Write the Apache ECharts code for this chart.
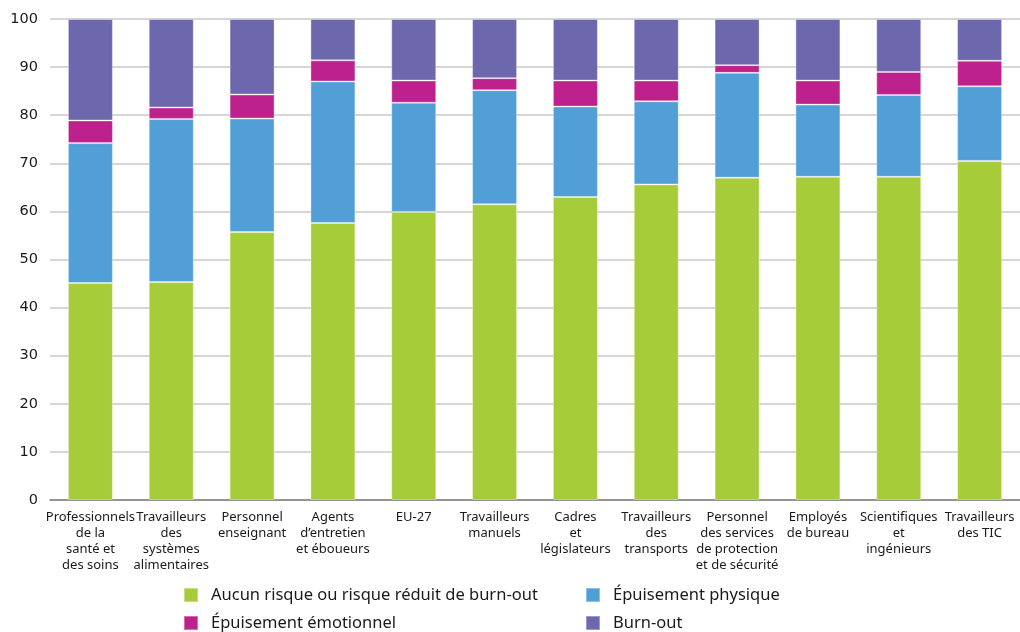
<!DOCTYPE html>
<html lang="fr">
<head>
    <meta charset="UTF-8">
    <title>Burn-out par profession</title>
    <script src="https://cdn.jsdelivr.net/npm/echarts@6/dist/echarts.min.js"></script>
    <style>
        html, body { margin: 0; padding: 0; background: #fff; }
    </style>
</head>
<body>
    <div id="main" style="width:1020px;height:632px;"></div>
    <script>
        // categories (line breaks as in the source figure)
        var categories = [
            'Professionnels\nde la\nsanté et\ndes soins',
            'Travailleurs\ndes\nsystèmes\nalimentaires',
            'Personnel\nenseignant',
            'Agents\nd’entretien\net éboueurs',
            'EU-27',
            'Travailleurs\nmanuels',
            'Cadres\net\nlégislateurs',
            'Travailleurs\ndes\ntransports',
            'Personnel\ndes services\nde protection\net de sécurité',
            'Employés\nde bureau',
            'Scientifiques\net\ningénieurs',
            'Travailleurs\ndes TIC'
        ];
        var aucunRisque = [45.1, 45.3, 55.7, 57.6, 59.9, 61.5, 63.0, 65.6, 67.0, 67.2, 67.2, 70.5];
        var epuisementPhysique = [29.1, 33.9, 23.6, 29.4, 22.7, 23.7, 18.8, 17.3, 21.8, 15.0, 17.0, 15.5];
        var epuisementEmotionnel = [4.7, 2.4, 5.0, 4.4, 4.6, 2.5, 5.4, 4.3, 1.6, 5.0, 4.8, 5.3];
        var burnOut = [21.1, 18.4, 15.7, 8.6, 12.8, 12.3, 12.8, 12.8, 9.6, 12.8, 11.0, 8.7];
        var yTicks = { min: 0, max: 100, interval: 10 };

        var font = 'Noto Sans';
        var myChart = echarts.init(document.getElementById('main'));

        function bar(name, values, color) {
            return {
                name: name,
                type: 'bar',
                stack: 'total',
                barWidth: 45,
                data: values,
                itemStyle: {
                    color: color,
                    borderColor: 'rgba(255,255,255,0.35)',
                    borderWidth: 1
                },
                emphasis: { disabled: true }
            };
        }

        var legendText = {
            fontFamily: font,
            fontSize: 16.5,
            lineHeight: 20,
            color: '#1a1a1a',
            padding: [0, 0, 0, 8]
        };

        // two legend columns, two rows each
        function legendColumn(names, left) {
            return {
                data: names,
                orient: 'vertical',
                left: left,
                top: 585,
                height: 60,
                padding: 0,
                itemWidth: 14,
                itemHeight: 14,
                itemGap: 8,
                icon: 'rect',
                textStyle: legendText
            };
        }

        var option = {
            backgroundColor: '#fff',
            animation: false,
            grid: {
                left: 50,
                right: 0,
                top: 19,
                bottom: 132
            },
            legend: [
                legendColumn(['Aucun risque ou risque réduit de burn-out', 'Épuisement émotionnel'], 183),
                legendColumn(['Épuisement physique', 'Burn-out'], 585)
            ],
            xAxis: {
                type: 'category',
                data: categories,
                axisTick: { show: false },
                axisLine: { lineStyle: { color: '#7f7f7f', width: 1.5 } },
                axisLabel: {
                    interval: 0,
                    margin: 9,
                    fontFamily: font,
                    fontSize: 13,
                    lineHeight: 16,
                    color: '#1a1a1a',
                    align: 'center'
                }
            },
            yAxis: {
                type: 'value',
                min: yTicks.min,
                max: yTicks.max,
                interval: yTicks.interval,
                axisLine: { show: false },
                axisTick: { show: false },
                axisLabel: {
                    margin: 12,
                    fontFamily: 'DejaVu Sans',
                    fontSize: 14.5,
                    color: '#1a1a1a'
                },
                splitLine: { lineStyle: { color: '#c8c8c8', width: 1.5 } }
            },
            series: [
                bar('Aucun risque ou risque réduit de burn-out', aucunRisque, '#a6cd39'),
                bar('Épuisement physique', epuisementPhysique, '#529fd7'),
                bar('Épuisement émotionnel', epuisementEmotionnel, '#bc218c'),
                bar('Burn-out', burnOut, '#6d68ae')
            ]
        };
        myChart.setOption(option);
    </script>
</body>
</html>
